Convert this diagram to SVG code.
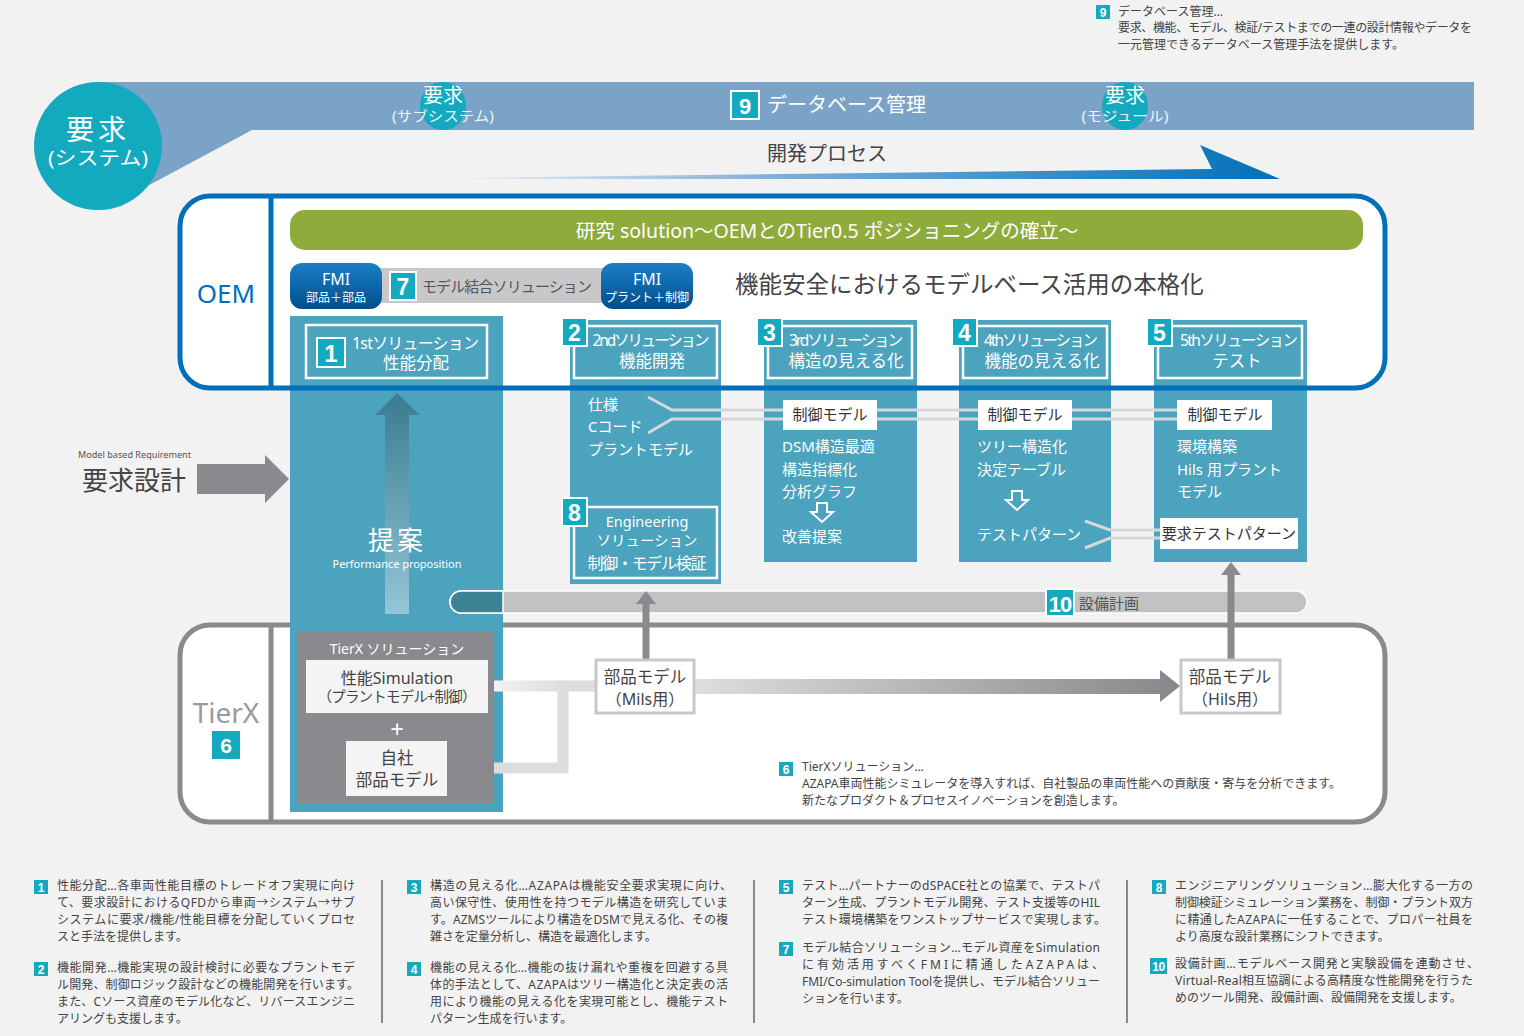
<svg xmlns="http://www.w3.org/2000/svg" width="1524" height="1036" viewBox="0 0 1524 1036">
<defs>
<linearGradient id="procG" x1="450" y1="0" x2="1280" y2="0" gradientUnits="userSpaceOnUse">
<stop offset="0" stop-color="#f2f2f2"/><stop offset="0.4" stop-color="#7aaedc"/><stop offset="1" stop-color="#0070b8"/>
</linearGradient>
<linearGradient id="fmiG" x1="0" y1="0" x2="0" y2="1">
<stop offset="0" stop-color="#1a7fc6"/><stop offset="1" stop-color="#004e8c"/>
</linearGradient>
<linearGradient id="upG" x1="0" y1="393" x2="0" y2="614" gradientUnits="userSpaceOnUse">
<stop offset="0" stop-color="#3a7b8f"/><stop offset="1" stop-color="#94c6d7"/>
</linearGradient>
<linearGradient id="bigArr" x1="694" y1="0" x2="1180" y2="0" gradientUnits="userSpaceOnUse">
<stop offset="0" stop-color="#dddee0"/><stop offset="1" stop-color="#86878b"/>
</linearGradient>
<linearGradient id="simG" x1="488" y1="0" x2="560" y2="0" gradientUnits="userSpaceOnUse">
<stop offset="0" stop-color="#f4f4f5"/><stop offset="1" stop-color="#dcdddf"/>
</linearGradient>
<style>
text{font-family:'Noto Sans','Noto Sans CJK JP',sans-serif}
.w{fill:#fff}
.col{fill:#4ba3bd}
.hdr{fill:none;stroke:#fff;stroke-width:2.5}
.bdg{fill:#13a9bf;stroke:#fff;stroke-width:2}
.bn{fill:#fff;font-family:'Liberation Sans Narrow','Liberation Sans',sans-serif;font-weight:bold;text-anchor:middle}
.sb{fill:#13a9bf}
.note{fill:#444;font-size:12px}
.ct{fill:#fff;font-size:15px}
.wb{fill:#fff}
.dk{fill:#333;font-size:15px;text-anchor:middle}
.dl{fill:none;stroke:#d6d7d9;stroke-width:3}
.sep{stroke:#666;stroke-width:1.5}
.mid{text-anchor:middle}
</style>
</defs>
<rect width="1524" height="1036" fill="#f2f2f2"/>

<!-- top note 9 -->
<g id="note9">
<rect class="sb" x="1096" y="5" width="14" height="14"/><text class="bn" x="1103" y="17" font-size="12">9</text>
<text class="note" x="1118" y="16">データベース管理…</text>
<text class="note" x="1118" y="32" textLength="354" lengthAdjust="spacing">要求、機能、モデル、検証/テストまでの一連の設計情報やデータを</text>
<text class="note" x="1118" y="49">一元管理できるデータベース管理手法を提供します。</text>
</g>

<!-- banner -->
<g id="banner">
<polygon points="98,82 1474,82 1474,130 252,130 112,205" fill="#7ba3c7"/>
<ellipse cx="443" cy="106" rx="23" ry="24" fill="#13a9bf"/>
<text class="w mid" x="443" y="103" font-size="20">要求</text>
<text class="mid" x="443" y="121" font-size="14" fill="#eef3f8" textLength="102" lengthAdjust="spacingAndGlyphs">(サブシステム)</text>
<ellipse cx="1125" cy="106" rx="23" ry="24" fill="#13a9bf"/>
<text class="w mid" x="1125" y="103" font-size="20">要求</text>
<text class="mid" x="1125" y="121" font-size="14" fill="#eef3f8" textLength="87" lengthAdjust="spacingAndGlyphs">(モジュール)</text>
<rect class="bdg" x="731" y="91" width="28" height="28"/><text class="bn" x="745" y="114" font-size="22">9</text>
<text class="w" x="767" y="112" font-size="20">データベース管理</text>
</g>
<g id="sys">
<circle cx="98" cy="146" r="64" fill="#13a9bf"/>
<text class="w mid" x="98" y="140" font-size="28" letter-spacing="4">要求</text>
<text class="w mid" x="98" y="165" font-size="19" textLength="100" lengthAdjust="spacingAndGlyphs">(システム)</text>
</g>
<g id="process">
<polygon points="450,178 1212,169 1200,145 1280,179 450,179" fill="url(#procG)"/>
<text x="767" y="161" font-size="20" fill="#444">開発プロセス</text>
</g>

<!-- box fills -->
<rect x="180" y="196" width="1205" height="192" rx="30" fill="#fff"/>
<rect x="180" y="625" width="1205" height="197" rx="30" fill="#fff"/>
<line x1="271" y1="625" x2="271" y2="822" stroke="#8a8a8e" stroke-width="5"/>
<rect x="180" y="625" width="1205" height="197" rx="30" fill="none" stroke="#8a8a8e" stroke-width="5"/>

<!-- req design arrow -->
<g id="reqdesign">
<text x="78" y="458" font-size="9.5" fill="#555" textLength="113" lengthAdjust="spacingAndGlyphs">Model based Requirement</text>
<text x="82" y="490" font-size="26" fill="#444">要求設計</text>
<polygon points="197,464 265,464 265,455 289,479 265,503 265,494 197,494" fill="#8a8a8e"/>
</g>

<!-- columns -->
<g id="col1">
<rect class="col" x="290" y="316" width="213" height="496"/>
<rect class="hdr" x="306" y="325" width="181" height="53"/>
<rect class="bdg" x="317" y="338" width="28" height="29"/><text class="bn" x="331" y="362" font-size="24">1</text>
<text class="w" x="352" y="349" font-size="16" textLength="127" lengthAdjust="spacing">1stソリューション</text>
<text class="w mid" x="416" y="369" font-size="16.5">性能分配</text>
<polygon points="397,393 420,415 409,415 409,614 385,614 385,415 375,415" fill="url(#upG)"/>
<text class="w mid" x="397" y="550" font-size="26" letter-spacing="3">提案</text>
<text class="w mid" x="397" y="568" font-size="11.5" textLength="129" lengthAdjust="spacingAndGlyphs">Performance proposition</text>
</g>

<g id="col2">
<rect class="col" x="570" y="320" width="151" height="264"/>
<rect class="hdr" x="574" y="326" width="143" height="52"/>
<rect class="bdg" x="562" y="318" width="25" height="28"/><text class="bn" x="574.5" y="341" font-size="23">2</text>
<text class="w mid" x="651" y="346" font-size="15.5" textLength="117" lengthAdjust="spacing">2ndソリューション</text>
<text class="w mid" x="652" y="367" font-size="16.5">機能開発</text>
<text class="ct" x="588" y="410">仕様</text>
<text class="ct" x="588" y="432">Cコード</text>
<text class="ct" x="588" y="455">プラントモデル</text>
</g>

<g id="col3">
<rect class="col" x="764" y="320" width="153" height="242"/>
<rect class="hdr" x="768" y="326" width="144" height="52"/>
<rect class="bdg" x="757" y="318" width="25" height="28"/><text class="bn" x="769.5" y="341" font-size="23">3</text>
<text class="w mid" x="846" y="346" font-size="15.5" textLength="114" lengthAdjust="spacing">3rdソリューション</text>
<text class="w mid" x="846" y="367" font-size="16.5">構造の見える化</text>
<text class="ct" x="782" y="452">DSM構造最適</text>
<text class="ct" x="782" y="475">構造指標化</text>
<text class="ct" x="782" y="497">分析グラフ</text>
<path d="M817,503 h10 v9 h6 l-11,10 l-11,-10 h6 z" fill="none" stroke="#fff" stroke-width="2"/>
<text class="ct" x="782" y="542">改善提案</text>
</g>

<g id="col4">
<rect class="col" x="959" y="320" width="152" height="242"/>
<rect class="hdr" x="963" y="326" width="144" height="52"/>
<rect class="bdg" x="952" y="318" width="25" height="28"/><text class="bn" x="964.5" y="341" font-size="23">4</text>
<text class="w mid" x="1041" y="346" font-size="15.5" textLength="114" lengthAdjust="spacing">4thソリューション</text>
<text class="w mid" x="1042" y="367" font-size="16.5">機能の見える化</text>
<text class="ct" x="977" y="452">ツリー構造化</text>
<text class="ct" x="977" y="475">決定テーブル</text>
<path d="M1012,491 h10 v9 h6 l-11,10 l-11,-10 h6 z" fill="none" stroke="#fff" stroke-width="2"/>
<text class="ct" x="977" y="540">テストパターン</text>
</g>

<g id="col5">
<rect class="col" x="1154" y="320" width="153" height="242"/>
<rect class="hdr" x="1158" y="326" width="144" height="52"/>
<rect class="bdg" x="1147" y="318" width="25" height="28"/><text class="bn" x="1159.5" y="341" font-size="23">5</text>
<text class="w mid" x="1239" y="346" font-size="15.5" textLength="118" lengthAdjust="spacing">5thソリューション</text>
<text class="w mid" x="1237" y="367" font-size="16.5">テスト</text>
<text class="ct" x="1177" y="452">環境構築</text>
<text class="ct" x="1177" y="475">Hils 用プラント</text>
<text class="ct" x="1177" y="497">モデル</text>
</g>

<!-- OEM stroke -->
<g id="oem">
<line x1="271" y1="196" x2="271" y2="388" stroke="#0070bb" stroke-width="5"/>
<rect x="180" y="196" width="1205" height="192" rx="30" fill="none" stroke="#0070bb" stroke-width="5"/>
<text x="226" y="303" font-size="26" fill="#0070bb" class="mid">OEM</text>
<rect x="290" y="210" width="1073" height="40" rx="15" fill="#8fab3c"/>
<text class="w mid" x="827" y="238" font-size="19.5">研究 solution～OEMとのTier0.5 ポジショニングの確立～</text>
<text x="735" y="293" font-size="23.5" fill="#444">機能安全におけるモデルベース活用の本格化</text>
</g>

<g id="fmi">
<rect x="378" y="268" width="228" height="35" fill="#c8c8ca"/>
<rect class="bdg" x="390" y="272" width="26" height="28"/><text class="bn" x="403" y="295" font-size="23">7</text>
<text x="422" y="292" font-size="15" fill="#555" textLength="170" lengthAdjust="spacing">モデル結合ソリューション</text>
<rect x="290" y="263" width="92" height="46" rx="12" fill="url(#fmiG)"/>
<text class="w mid" x="336" y="285" font-size="16">FMI</text>
<text class="w mid" x="336" y="302" font-size="12">部品＋部品</text>
<rect x="601" y="263" width="92" height="46" rx="12" fill="url(#fmiG)"/>
<text class="w mid" x="647" y="285" font-size="16">FMI</text>
<text class="w mid" x="647" y="302" font-size="12">プラント＋制御</text>
</g>

<!-- connectors -->
<g id="connectors">
<path class="dl" d="M648,397 L672,410 H1180"/>
<path class="dl" d="M648,433 L672,419 H1180"/>
<path class="dl" d="M1085,521 L1110,530 H1165"/>
<path class="dl" d="M1085,548 L1110,538 H1165"/>
<path d="M488,686 H563" fill="none" stroke="url(#simG)" stroke-width="11"/>
<path d="M447,768 H563 V686 H596" fill="none" stroke="#dcdddf" stroke-width="11"/>
<polygon points="694,679 1160,679 1160,670 1180,686 1160,702 1160,694 694,694" fill="url(#bigArr)"/>
</g>

<g id="ctrl">
<rect class="wb" x="783" y="400" width="94" height="30"/><text class="dk" x="830" y="420">制御モデル</text>
<rect class="wb" x="978" y="400" width="94" height="30"/><text class="dk" x="1025" y="420">制御モデル</text>
<rect class="wb" x="1177" y="400" width="95" height="30"/><text class="dk" x="1225" y="420">制御モデル</text>
<rect class="wb" x="1160" y="518" width="138" height="31"/><text class="dk" x="1229" y="539" font-size="14.5">要求テストパターン</text>
</g>

<g id="box8">
<rect class="hdr" x="574" y="507" width="143" height="71"/>
<rect class="bdg" x="562" y="498" width="25" height="28"/><text class="bn" x="574.5" y="521" font-size="23">8</text>
<text class="w mid" x="647" y="527" font-size="14.5">Engineering</text>
<text class="w mid" x="647" y="546" font-size="14.5">ソリューション</text>
<text class="w mid" x="647" y="569" font-size="16" textLength="119" lengthAdjust="spacing">制御・モデル検証</text>
</g>

<!-- equipment bar -->
<g id="equip">
<rect x="450" y="591" width="857" height="22" rx="11" fill="#c1c2c4" stroke="#fff" stroke-width="1.5"/>
<path d="M503,591 H461 A11,11 0 0 0 461,613 H503 Z" fill="#3d8396" stroke="#fff" stroke-width="1.5"/>
<rect class="bdg" x="1046" y="589" width="28" height="27"/><text class="bn" x="1060" y="612" font-size="22" letter-spacing="-1">10</text>
<text x="1079" y="609" font-size="15" fill="#555">設備計画</text>
</g>

<!-- up arrows -->
<g id="uparrows">
<line x1="646" y1="660" x2="646" y2="600" stroke="#8a8a8e" stroke-width="7"/>
<polygon points="646,591 656,604 636,604" fill="#8a8a8e"/>
<line x1="1231" y1="660" x2="1231" y2="571" stroke="#8a8a8e" stroke-width="7"/>
<polygon points="1231,562 1241,575 1221,575" fill="#8a8a8e"/>
</g>

<!-- TierX -->
<g id="tierx">
<text x="226" y="723" font-size="28" fill="#9a9a9e" class="mid">TierX</text>
<rect class="sb" x="212" y="731" width="28" height="28"/><text class="bn" x="226" y="753" font-size="21">6</text>
</g>
<g id="tierxsol">
<rect x="298" y="632" width="196" height="172" fill="#8a8a8e"/>
<text class="w mid" x="397" y="654" font-size="14">TierX ソリューション</text>
<rect x="306" y="660" width="182" height="53" fill="#f4f4f5"/>
<text class="mid" x="397" y="684" font-size="16" fill="#444">性能Simulation</text>
<text class="mid" x="397" y="702" font-size="14.5" fill="#444" textLength="159" lengthAdjust="spacing">（プラントモデル+制御）</text>
<text class="w mid" x="397" y="738" font-size="24">+</text>
<rect x="346" y="741" width="101" height="55" fill="#f4f4f5"/>
<text class="mid" x="397" y="764" font-size="16.5" fill="#444">自社</text>
<text class="mid" x="397" y="786" font-size="16.5" fill="#444">部品モデル</text>
</g>
<g id="mils">
<rect x="596" y="660" width="98" height="53" fill="#fff" stroke="#c8c8ca" stroke-width="3"/>
<text class="mid" x="645" y="683" font-size="16.5" fill="#444">部品モデル</text>
<text class="mid" x="645" y="705" font-size="16" fill="#444">（Mils用）</text>
</g>
<g id="hils">
<rect x="1181" y="660" width="99" height="53" fill="#fff" stroke="#c8c8ca" stroke-width="3"/>
<text class="mid" x="1230" y="683" font-size="16.5" fill="#444">部品モデル</text>
<text class="mid" x="1230" y="705" font-size="16" fill="#444">（Hils用）</text>
</g>
<g id="note6">
<rect class="sb" x="779" y="762" width="14" height="14"/><text class="bn" x="786" y="774" font-size="12">6</text>
<text class="note" x="802" y="771">TierXソリューション…</text>
<text class="note" x="802" y="788">AZAPA車両性能シミュレータを導入すれば、自社製品の車両性能への貢献度・寄与を分析できます。</text>
<text class="note" x="802" y="805">新たなプロダクト＆プロセスイノベーションを創造します。</text>
</g>

<!-- bottom notes -->
<g id="notes">
<line class="sep" x1="382" y1="880" x2="382" y2="1023"/>
<line class="sep" x1="754" y1="880" x2="754" y2="1023"/>
<line class="sep" x1="1127" y1="880" x2="1127" y2="1023"/>

<rect class="sb" x="34" y="880" width="14" height="14"/><text class="bn" x="41" y="892" font-size="12">1</text>
<text class="note" x="57" y="890" textLength="298" lengthAdjust="spacing">性能分配…各車両性能目標のトレードオフ実現に向け</text>
<text class="note" x="57" y="907" textLength="298" lengthAdjust="spacing">て、要求設計におけるQFDから車両→システム→サブ</text>
<text class="note" x="57" y="924" textLength="298" lengthAdjust="spacing">システムに要求/機能/性能目標を分配していくプロセ</text>
<text class="note" x="57" y="941">スと手法を提供します。</text>
<rect class="sb" x="34" y="962" width="14" height="14"/><text class="bn" x="41" y="974" font-size="12">2</text>
<text class="note" x="57" y="972" textLength="298" lengthAdjust="spacing">機能開発…機能実現の設計検討に必要なプラントモデ</text>
<text class="note" x="57" y="989" textLength="302" lengthAdjust="spacing">ル開発、制御ロジック設計などの機能開発を行います。</text>
<text class="note" x="57" y="1006" textLength="298" lengthAdjust="spacing">また、Cソース資産のモデル化など、リバースエンジニ</text>
<text class="note" x="57" y="1023">アリングも支援します。</text>

<rect class="sb" x="407" y="880" width="14" height="14"/><text class="bn" x="414" y="892" font-size="12">3</text>
<text class="note" x="430" y="890" textLength="302" lengthAdjust="spacing">構造の見える化…AZAPAは機能安全要求実現に向け、</text>
<text class="note" x="430" y="907" textLength="298" lengthAdjust="spacing">高い保守性、使用性を持つモデル構造を研究していま</text>
<text class="note" x="430" y="924" textLength="298" lengthAdjust="spacing">す。AZMSツールにより構造をDSMで見える化、その複</text>
<text class="note" x="430" y="941">雑さを定量分析し、構造を最適化します。</text>
<rect class="sb" x="407" y="962" width="14" height="14"/><text class="bn" x="414" y="974" font-size="12">4</text>
<text class="note" x="430" y="972" textLength="298" lengthAdjust="spacing">機能の見える化…機能の抜け漏れや重複を回避する具</text>
<text class="note" x="430" y="989" textLength="298" lengthAdjust="spacing">体的手法として、AZAPAはツリー構造化と決定表の活</text>
<text class="note" x="430" y="1006" textLength="298" lengthAdjust="spacing">用により機能の見える化を実現可能とし、機能テスト</text>
<text class="note" x="430" y="1023">パターン生成を行います。</text>

<rect class="sb" x="779" y="880" width="14" height="14"/><text class="bn" x="786" y="892" font-size="12">5</text>
<text class="note" x="802" y="890" textLength="298" lengthAdjust="spacing">テスト…パートナーのdSPACE社との協業で、テストパ</text>
<text class="note" x="802" y="907" textLength="298" lengthAdjust="spacing">ターン生成、プラントモデル開発、テスト支援等のHIL</text>
<text class="note" x="802" y="924" textLength="304" lengthAdjust="spacing">テスト環境構築をワンストップサービスで実現します。</text>
<rect class="sb" x="779" y="942" width="14" height="14"/><text class="bn" x="786" y="954" font-size="12">7</text>
<text class="note" x="802" y="952" textLength="298" lengthAdjust="spacing">モデル結合ソリューション…モデル資産をSimulation</text>
<text class="note" x="802" y="969" textLength="302" lengthAdjust="spacing">に有効活用すべくFMIに精通したAZAPAは、</text>
<text class="note" x="802" y="986" textLength="298" lengthAdjust="spacing">FMI/Co-simulation Toolを提供し、モデル結合ソリュー</text>
<text class="note" x="802" y="1003">ションを行います。</text>

<rect class="sb" x="1152" y="880" width="14" height="14"/><text class="bn" x="1159" y="892" font-size="12">8</text>
<text class="note" x="1175" y="890" textLength="298" lengthAdjust="spacing">エンジニアリングソリューション…膨大化する一方の</text>
<text class="note" x="1175" y="907" textLength="298" lengthAdjust="spacing">制御検証シミュレーション業務を、制御・プラント双方</text>
<text class="note" x="1175" y="924" textLength="298" lengthAdjust="spacing">に精通したAZAPAに一任することで、プロパー社員を</text>
<text class="note" x="1175" y="941">より高度な設計業務にシフトできます。</text>
<rect class="sb" x="1150" y="958" width="17" height="16"/><text class="bn" x="1158.5" y="971" font-size="12" letter-spacing="-0.5">10</text>
<text class="note" x="1175" y="968" textLength="304" lengthAdjust="spacing">設備計画…モデルベース開発と実験設備を連動させ、</text>
<text class="note" x="1175" y="985" textLength="298" lengthAdjust="spacing">Virtual-Real相互協調による高精度な性能開発を行うた</text>
<text class="note" x="1175" y="1002">めのツール開発、設備計画、設備開発を支援します。</text>
</g>
</svg>
